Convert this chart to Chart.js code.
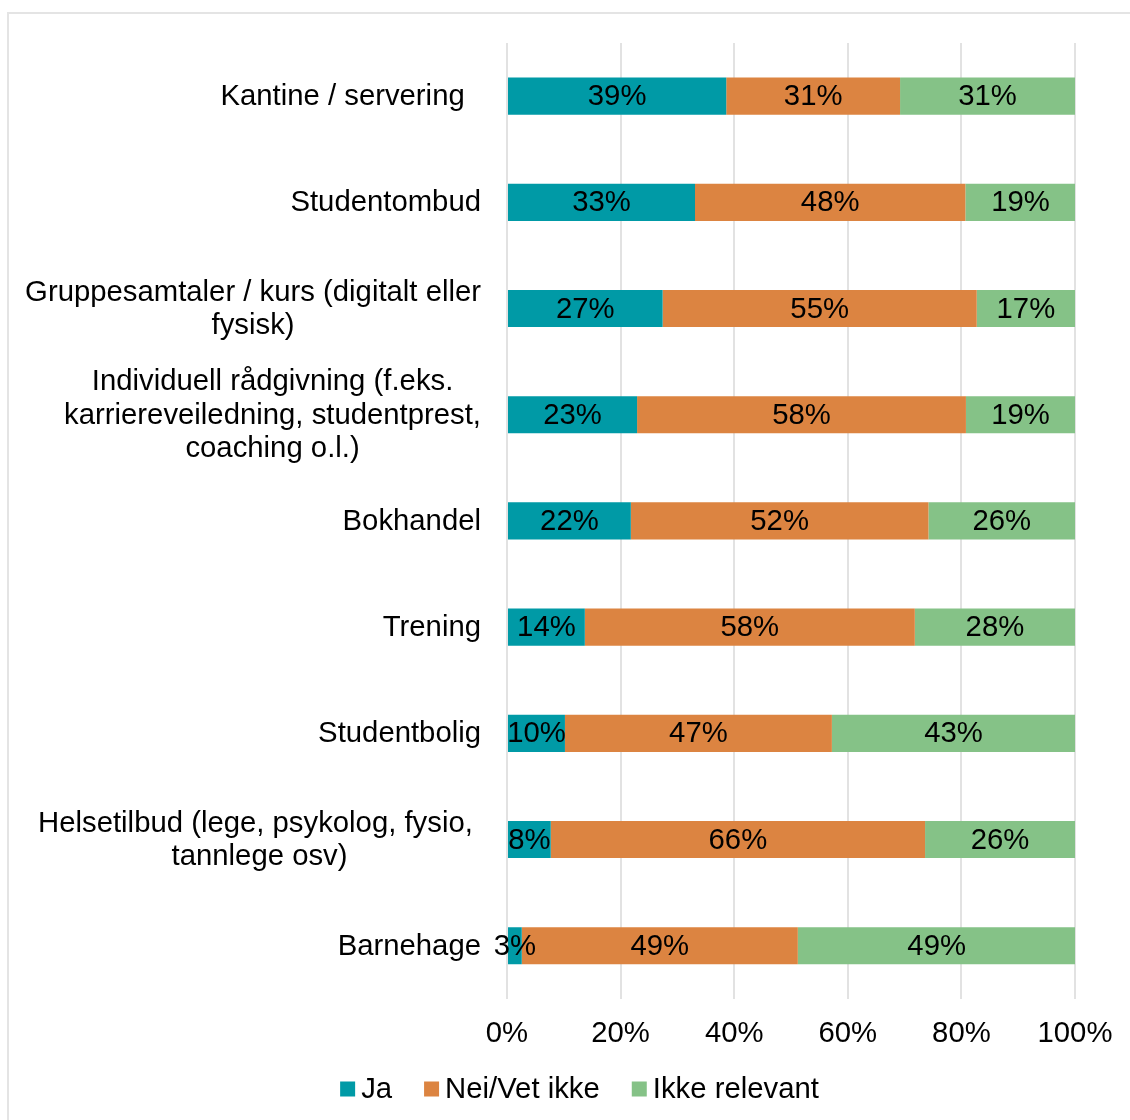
<!DOCTYPE html>
<html>
<head>
<meta charset="utf-8">
<script src="https://cdn.jsdelivr.net/npm/chart.js@4"></script>
<style>
  html, body { margin: 0; padding: 0; background: #fff; overflow: hidden; }
  #frame { position: absolute; left: 7px; top: 12px; width: 1300px; height: 1300px;
           border-left: 2px solid #e4e4e4; border-top: 2px solid #e4e4e4; }
  #wrap { position: absolute; left: 0; top: 0; width: 1159px; height: 1120px; }
</style>
</head>
<body>
<div id="frame"></div>
<div id="wrap"><canvas id="chart"></canvas></div>
<script>
// Categories (each entry = lines of the axis label)
const categories = [
  ['Kantine / servering  '],
  ['Studentombud'],
  ['Gruppesamtaler / kurs (digitalt eller', 'fysisk)'],
  ['Individuell rådgivning (f.eks.', 'karriereveiledning, studentprest,', 'coaching o.l.)'],
  ['Bokhandel'],
  ['Trening'],
  ['Studentbolig'],
  ['Helsetilbud (lege, psykolog, fysio, ', 'tannlege osv)'],
  ['Barnehage']
];

// Series values (percent)
const jaValues   = [38.6, 33.1, 27.4, 22.9, 21.8, 13.7, 10.2, 7.7, 2.6];
const neiValues  = [30.6, 47.6, 55.3, 57.9, 52.4, 58.1, 47.0, 65.9, 48.6];
const ikkeValues = [30.8, 19.4, 17.3, 19.2, 25.8, 28.2, 42.8, 26.4, 48.9];

const seriesNames = ['Ja', 'Nei/Vet ikke', 'Ikke relevant'];
const seriesColors = ['#009AA6', '#DC8441', '#85C287'];

const xTicks = [0, 20, 40, 60, 80, 100];

const FONT = '"Liberation Sans", Arial, sans-serif';
const FS = 29.3;

// Data labels in the middle of each bar segment
const barLabels = {
  id: 'barLabels',
  afterDatasetsDraw(chart) {
    const ctx = chart.ctx;
    ctx.save();
    ctx.font = FS + 'px ' + FONT;
    ctx.fillStyle = '#000';
    ctx.textAlign = 'center';
    ctx.textBaseline = 'middle';
    chart.data.datasets.forEach((ds, di) => {
      const meta = chart.getDatasetMeta(di);
      meta.data.forEach((bar, i) => {
        const x = (bar.x + bar.base) / 2;
        ctx.fillText(Math.round(ds.data[i]) + '%', x, bar.y + 1);
      });
    });
    ctx.restore();
  }
};

// Category labels: lines centred on each other, block right-aligned
const categoryLabels = {
  id: 'categoryLabels',
  afterDraw(chart) {
    const ctx = chart.ctx;
    const yScale = chart.scales.y;
    const rightX = chart.chartArea.left - 26;
    const lh = 33.5;
    ctx.save();
    ctx.font = FS + 'px ' + FONT;
    ctx.fillStyle = '#000';
    ctx.textAlign = 'center';
    ctx.textBaseline = 'middle';
    categories.forEach((lines, i) => {
      const cy = yScale.getPixelForTick(i);
      const maxW = Math.max(...lines.map(l => ctx.measureText(l).width));
      const cx = rightX - maxW / 2;
      lines.forEach((line, j) => {
        const y = cy + (j - (lines.length - 1) / 2) * lh + 1;
        ctx.fillText(line, cx, y);
      });
    });
    ctx.restore();
  }
};

// Legend at the bottom
const bottomLegend = {
  id: 'bottomLegend',
  afterDraw(chart) {
    const ctx = chart.ctx;
    const box = 15, textGap = 6, itemGap = 32;
    const cy = 1089;
    ctx.save();
    ctx.font = FS + 'px ' + FONT;
    ctx.textBaseline = 'middle';
    ctx.textAlign = 'left';
    const widths = seriesNames.map(n => box + textGap + ctx.measureText(n).width);
    const total = widths.reduce((a, b) => a + b, 0) + itemGap * (widths.length - 1);
    let x = chart.width / 2 - total / 2;
    seriesNames.forEach((name, i) => {
      ctx.fillStyle = seriesColors[i];
      ctx.fillRect(x, cy - box / 2, box, box);
      ctx.fillStyle = '#000';
      ctx.fillText(name, x + box + textGap, cy + 1);
      x += widths[i] + itemGap;
    });
    ctx.restore();
  }
};

const valueSets = [jaValues, neiValues, ikkeValues];

new Chart(document.getElementById('chart'), {
  type: 'bar',
  data: {
    labels: categories,
    datasets: seriesNames.map((name, i) => ({
      label: name,
      data: valueSets[i],
      backgroundColor: seriesColors[i],
      borderWidth: 0,
      barPercentage: 1,
      categoryPercentage: 0.35
    }))
  },
  options: {
    indexAxis: 'y',
    responsive: true,
    maintainAspectRatio: false,
    animation: false,
    layout: {
      padding: { top: 43, right: 84, bottom: 52, left: 0 }
    },
    plugins: {
      legend: { display: false },
      tooltip: { enabled: false }
    },
    scales: {
      x: {
        stacked: true,
        min: 0,
        max: 100,
        afterBuildTicks: (scale) => {
          scale.ticks = xTicks.map(v => ({ value: v }));
        },
        border: { display: false },
        grid: { color: '#e2e2e2', lineWidth: 2, drawTicks: false },
        ticks: {
          padding: 17,
          color: '#000',
          font: { family: FONT, size: FS },
          callback: (v) => v + '%'
        }
      },
      y: {
        stacked: true,
        grid: { display: false },
        border: { display: false },
        ticks: { display: false },
        afterFit: (scale) => { scale.width = 507; }
      }
    }
  },
  plugins: [barLabels, categoryLabels, bottomLegend]
});
</script>
</body>
</html>
